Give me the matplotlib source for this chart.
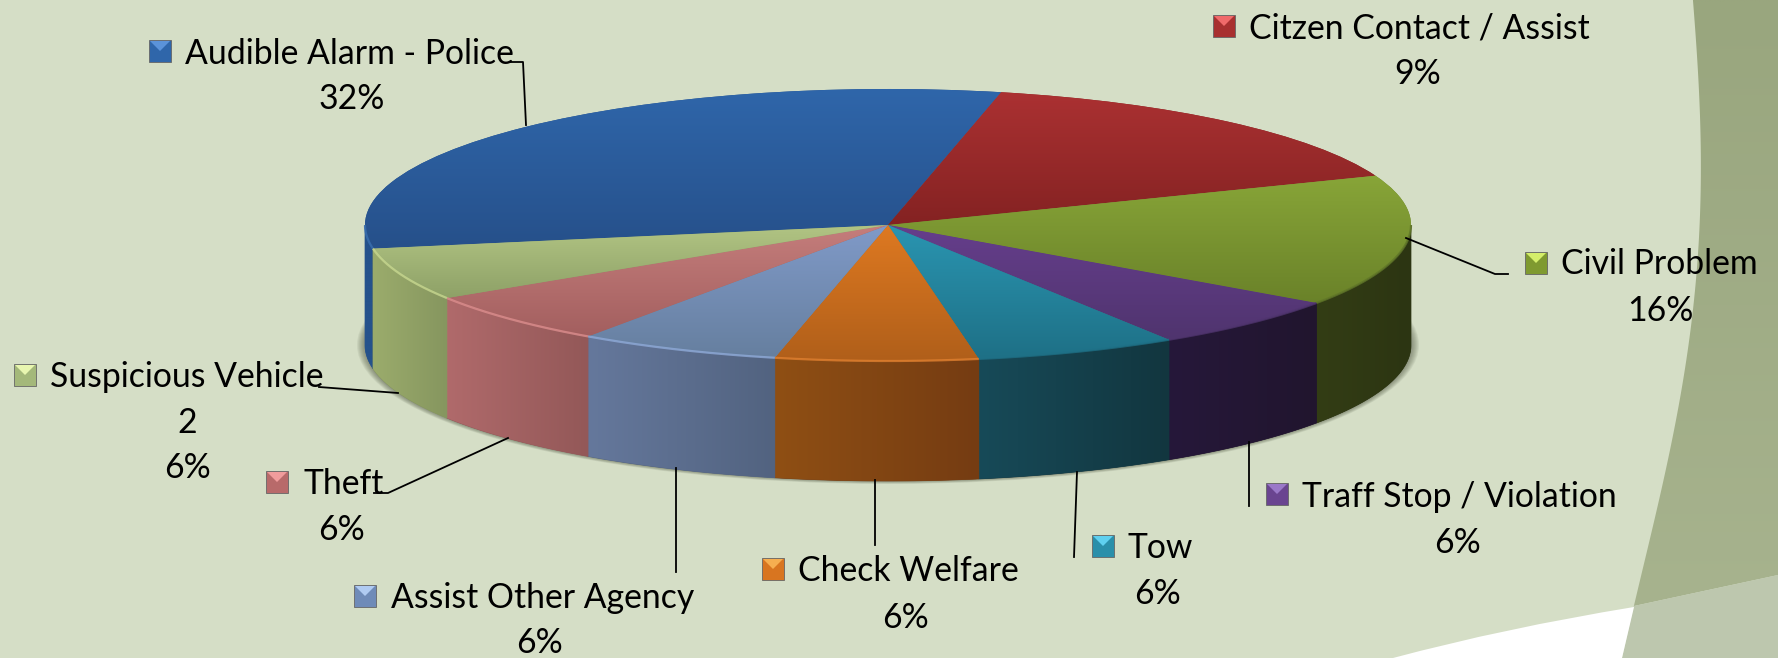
import numpy as np
import matplotlib
matplotlib.use('Agg')
import matplotlib.pyplot as plt
from matplotlib.colors import to_rgb
from matplotlib.patches import Polygon, Ellipse, Rectangle
from matplotlib.path import Path
from matplotlib.patches import PathPatch
from matplotlib.transforms import Affine2D

# slice sizes as drawn are counts out of 32 (the printed percents don't all agree with them)
names = ['Audible Alarm - Police', 'Citzen Contact / Assist', 'Civil Problem',
         'Traff Stop / Violation', 'Tow', 'Check Welfare', 'Assist Other Agency',
         'Theft', 'Suspicious Vehicle']
values = [10, 5, 5, 2, 2, 2, 2, 2, 2]
pct_labels = ['32%', '9%', '16%', '6%', '6%', '6%', '6%', '6%', '2\n6%']

# top face gradient (light, dark)
top_light = ['#2F66AA', '#AB3132', '#88A538', '#663E8C', '#2A95B1', '#DE7921', '#809AC8', '#C57E7C', '#B2C584']
top_dark = ['#26508A', '#842222', '#6A8229', '#4F346E', '#1E7086', '#B05F1A', '#667F9F', '#A35F5F', '#8EA167']
# wall gradient (left, right)
wall_left = ['#25528C', '#555555', '#333D15', '#26183A', '#174A58', '#8F4F14', '#65789C', '#B06A6B', '#9BAC6C']
wall_right = ['#25528C', '#555555', '#2C3512', '#21152E', '#12363F', '#753C12', '#526380', '#935858', '#86965F']
rim_colors = ['#3A70B0', '#AB3132', '#5F7528', '#4F346E', '#1E7086', '#E08030', '#8FAAD8', '#DC8E8E', '#C8D890']
# legend keys
key_body = ['#2F66AA', '#A83030', '#7F9A30', '#6A4490', '#2A8FAA', '#D87520', '#6F8BB8', '#B86A6A', '#A4B87A']
key_tri = ['#5B93D9', '#F06A6A', '#D4EE6A', '#9A78C8', '#5FD0F0', '#F6AE50', '#B0CBF2', '#F09C9C', '#E8F6B0']

# label layout in pixels: text left, first baseline, percent centre, percent baseline, key left, key top
text_x = [185, 1249, 1561, 1302, 1127, 798, 391, 303, 50]
text_y = [64, 38, 274, 507, 558, 581, 608, 494, 387]
pct_x = [352, 1418, 1660, 1458, 1158, 906, 540, 342, 187]
pct_y = [109, 84, 321, 553, 604, 628, 653, 540, 433]
key_x = [149, 1213, 1525, 1266, 1092, 762, 354, 266, 14]
key_y = [40, 15, 252, 483, 535, 558, 585, 471, 364]

leaders = [
    [(510, 62), (523, 62), (526, 125)],
    [(1406, 238), (1495, 274), (1508, 274)],
    [(1249, 442), (1249, 506)],
    [(1077, 472), (1074, 557)],
    [(875, 480), (875, 545)],
    [(676, 468), (676, 572)],
    [(508, 438), (388, 493), (374, 493)],
    [(398, 393), (319, 387)],
]

W, H = 1778, 658
cx, cy, rx, ry = 888, 225, 523, 136
depth = 120 / ry

plt.rcParams['font.family'] = ['Lato', 'DejaVu Sans']

fig = plt.figure(figsize=(W / 100, H / 100), dpi=100, facecolor='#D5DEC6')
ax = fig.add_axes([0, 0, 1, 1])
px = Affine2D().scale(1, -1).translate(0, H)  # pixel coords, y down


def gradient(c1, c2, extent, clip, vertical=True, z=3):
    c1, c2 = np.array(to_rgb(c1)), np.array(to_rgb(c2))
    f = np.linspace(0, 1, 128)[:, None]
    img = c1 * (1 - f) + c2 * f
    img = img[:, None, :] if vertical else img[None, :, :]
    im = ax.imshow(img, extent=extent, aspect='auto', zorder=z, interpolation='bilinear')
    im.set_clip_path(clip)


edge_y = np.array([0, 126, 168, 273, 378, 483, 606, 658])
edge_x = np.array([1693, 1700, 1701, 1697, 1683, 1663, 1634, 1622])
ys = np.linspace(0, 606, 80)
xs = np.polyval(np.polyfit(edge_y, edge_x, 4), ys)
band = Polygon(np.r_[np.column_stack([xs, ys]), [(1778, 575), (1778, 0)]], fc='none', ec='none', transform=px, zorder=0)
ax.add_patch(band)
gradient('#99A67E', '#A7B38E', ((1600 - cx) / rx, (W - cx) / rx, (cy - 610) / ry, cy / ry), band, z=0)
ax.add_patch(Polygon([(xs[-1], 606), (1778, 575), (1778, 658), (1622, 658)], fc='#BDC7AE', ec='none', transform=px, zorder=0))
white = Path([(1393, 658), (1505, 628), (1634, 607), (1622, 658), (1393, 658)],
             [Path.MOVETO, Path.CURVE3, Path.CURVE3, Path.LINETO, Path.CLOSEPOLY])
ax.add_patch(PathPatch(white, fc='white', ec='none', transform=px, zorder=0))

# the pie itself, squashed by letting the axes aspect go
wedges, _ = ax.pie(values, startangle=190, counterclock=False, radius=1, center=(0, 0),
                   colors=top_light, wedgeprops={'linewidth': 0})
ax.set_aspect('auto')

# soft shadow under the disc
for k in range(8):
    ax.add_patch(Ellipse((0, -depth), 2 * (rx + 8 - k) / rx, 2 * (ry + 3 - k * 0.4) / ry,
                         fc='#555a4a', ec='none', alpha=0.09, zorder=1))

for i, w in enumerate(wedges):
    t = np.radians(np.linspace(w.theta1, w.theta2, 500))
    x, y = np.cos(t), np.sin(t)

    # wall, only the front half shows
    front = y <= 0
    if front.any():
        fx, fy = x[front], y[front]
        wall = Polygon(np.column_stack([np.r_[fx, fx[::-1]], np.r_[fy, fy[::-1] - depth]]),
                       fc=wall_right[i], ec=wall_right[i], lw=0.5, zorder=2)
        ax.add_patch(wall)
        gradient(wall_left[i], wall_right[i], (fx.min(), fx.max(), -1 - depth, 0), wall, vertical=False, z=2)

    # top face
    w.set_facecolor(top_dark[i])
    w.set_zorder(2.9)
    gradient(top_light[i], top_dark[i], (min(x.min(), 0), max(x.max(), 0), min(y.min(), 0), max(y.max(), 0)), w)

    if front.any():
        ax.plot(fx, fy, color=rim_colors[i], lw=1.6, alpha=0.8, zorder=4, solid_capstyle='butt')

    # legend key
    kx, ky = key_x[i], key_y[i]
    ax.add_patch(Rectangle((kx, ky), 22, 22, fc=key_body[i], ec='#666666', lw=0.6, transform=px, zorder=6))
    ax.add_patch(Polygon([(kx + 1, ky + 1), (kx + 21, ky + 1), (kx + 11, ky + 11)],
                         fc=key_tri[i], ec='none', transform=px, zorder=7))

    ax.text(text_x[i], text_y[i], names[i], transform=px, fontsize=24.3, color='black',
            ha='left', va='baseline', zorder=8)
    for j, line in enumerate(pct_labels[i].split('\n')):
        ax.text(pct_x[i], pct_y[i] + j * 45, line, transform=px, fontsize=24.3, color='black',
                ha='center', va='baseline', zorder=8)

for pts in leaders:
    lx, ly = zip(*pts)
    ax.plot(lx, ly, color='black', lw=1.3, transform=px, zorder=5)

ax.set_xlim(-cx / rx, (W - cx) / rx)
ax.set_ylim((cy - H) / ry, cy / ry)
ax.set_axis_off()

fig.savefig('out.png', dpi=100, facecolor=fig.get_facecolor())
